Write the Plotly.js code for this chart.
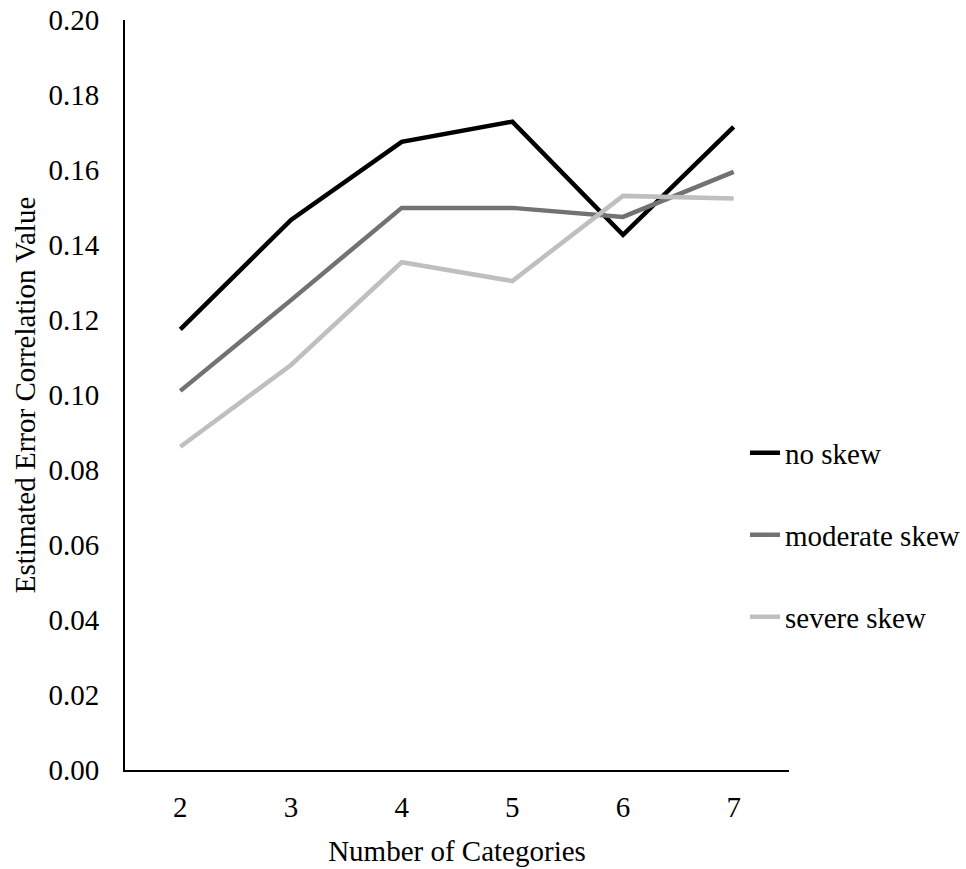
<!DOCTYPE html>
<html>
<head>
<meta charset="utf-8">
<script src="https://cdn.plot.ly/plotly-3.0.1.min.js"></script>
<style>html,body{margin:0;padding:0;background:#fff}#chart{width:966px;height:869px}</style>
</head>
<body>
<div id="chart"></div>
<script>
const categories = ["2", "3", "4", "5", "6", "7"];
const noSkew = [0.1175, 0.1467, 0.1675, 0.1729, 0.1427, 0.1715];
const moderateSkew = [0.1011, 0.1253, 0.1499, 0.1499, 0.1475, 0.1595];
const severeSkew = [0.0862, 0.1080, 0.1354, 0.1304, 0.1531, 0.1524];
const seriesNames = ["no skew", "moderate skew", "severe skew"];
const yTicks = [0, 0.02, 0.04, 0.06, 0.08, 0.10, 0.12, 0.14, 0.16, 0.18, 0.20];

const font = {family: "Liberation Serif", size: 29, color: "#000"};
const colors = ["#000000", "#767171", "#bfbfbf"];
const values = [noSkew, moderateSkew, severeSkew];
const legendIds = ["legend", "legend2", "legend3"];
const legendY = [0.4227, 0.3133, 0.204];

const traces = values.map((v, i) => ({
  type: "scatter", mode: "lines", x: categories, y: v, name: seriesNames[i],
  line: {color: colors[i], width: 4.5}, legend: legendIds[i]
}));

const layout = {
  width: 966, height: 869,
  margin: {l: 125, r: 177, t: 20, b: 99, autoexpand: false},
  paper_bgcolor: "#fff", plot_bgcolor: "#fff",
  font: font,
  showlegend: true,
  xaxis: {
    type: "category", tickvals: categories, ticktext: categories, range: [-0.5, 5.5],
    showline: true, linecolor: "#000", linewidth: 2, showgrid: false, zeroline: false,
    ticks: "", ticklabelstandoff: 10, tickfont: font, automargin: false,
    title: {text: "Number of Categories", font: font, standoff: 19}
  },
  yaxis: {
    range: [0, 0.2], tickvals: yTicks, tickformat: ".2f",
    showline: true, linecolor: "#000", linewidth: 2, showgrid: false, zeroline: false,
    ticks: "", ticklabelstandoff: 18, tickfont: font, automargin: false,
    title: {text: "Estimated Error Correlation Value", font: font, standoff: 4}
  }
};
legendIds.forEach((id, i) => {
  layout[id] = {x: 0.9337, xanchor: "left", y: legendY[i], yanchor: "middle",
    bgcolor: "rgba(0,0,0,0)", font: font, borderwidth: 0};
});

Plotly.newPlot("chart", traces, layout, {displayModeBar: false, staticPlot: true});
</script>
</body>
</html>
